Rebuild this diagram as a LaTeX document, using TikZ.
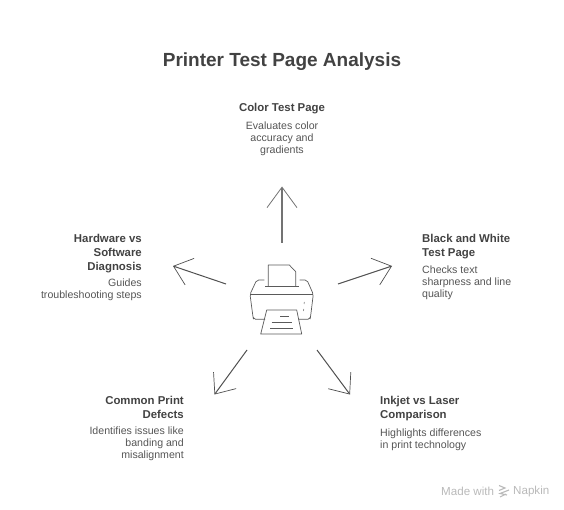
\documentclass[tikz,border=0pt]{standalone}
\usepackage{fontspec}
\setmainfont{Liberation Sans}
\definecolor{TitleGray}{RGB}{66, 66, 66}
\definecolor{BodyGray}{RGB}{85, 85, 85}
\definecolor{ArrowGray}{RGB}{80, 80, 80}
\definecolor{IconGray}{RGB}{90, 90, 90}
\definecolor{FootGray}{RGB}{185, 185, 185}
\usetikzlibrary{arrows.meta,positioning}

\begin{document}
\begin{tikzpicture}[
    x=1pt, y=-1pt,
    title/.style={font=\fontsize{19}{24}\selectfont\bfseries, text=TitleGray, inner sep=0pt},
    head/.style={font=\fontsize{11.4}{14}\selectfont\bfseries, text=TitleGray, inner sep=0pt},
    body/.style={font=\fontsize{10.6}{12}\selectfont, text=BodyGray, inner sep=0pt},
    foot/.style={font=\fontsize{11.6}{13}\selectfont, text=FootGray, inner sep=0pt},
    arr/.style={-{Straight Barb[length=17pt, width=28pt, line width=0.7pt]}, line width=1pt, draw=ArrowGray},
    icon/.style={draw=IconGray, line width=0.7pt, line join=round}
]
    \useasboundingbox (0,0) rectangle (564,510);

    \node[title] (title) at (282,62) {Printer Test Page Analysis};

    % labels
    \node[head, align=center, anchor=north] (colorhead) at (282,103.5) {Color Test Page};
    \node[body, align=center, anchor=north, below=7pt of colorhead] (colorbody) {Evaluates color\\accuracy and\\gradients};

    \node[head, align=left, anchor=north west] (bwhead) at (422,234) {Black and White\\Test Page};
    \node[body, align=left, below=6.5pt of bwhead.south west, anchor=north west] (bwbody) {Checks text\\sharpness and line\\quality};

    \node[head, align=right, anchor=north east] (hwhead) at (142,234) {Hardware vs\\Software\\Diagnosis};
    \node[body, align=right, below=5.5pt of hwhead.south east, anchor=north east] (hwbody) {Guides\\troubleshooting steps};

    \node[head, align=right, anchor=north east] (defecthead) at (184,396.5) {Common Print\\Defects};
    \node[body, align=right, below=7pt of defecthead.south east, anchor=north east] (defectbody) {Identifies issues like\\banding and\\misalignment};

    \node[head, align=left, anchor=north west] (inkhead) at (380,396.5) {Inkjet vs Laser\\Comparison};
    \node[body, align=left, below=7pt of inkhead.south west, anchor=north west] (inkbody) {Highlights differences\\in print technology};

    % arrows
    \coordinate (upfrom) at (282,243);
    \coordinate (upto) at (282,186.5);
    \coordinate (rightfrom) at (338,284);
    \coordinate (rightto) at (392,266);
    \coordinate (leftfrom) at (226,284);
    \coordinate (leftto) at (173,266);
    \coordinate (dlfrom) at (247,350);
    \coordinate (dlto) at (214.5,394.5);
    \coordinate (drfrom) at (317,350);
    \coordinate (drto) at (350,394.5);

    \draw[arr, line width=1.5pt, draw=ArrowGray!80, -{Straight Barb[length=20.5pt, width=30pt, line width=0.8pt]}] (upfrom) -- (upto);
    \draw[arr] (rightfrom) -- (rightto);
    \draw[arr] (leftfrom) -- (leftto);
    \draw[arr] (dlfrom) -- (dlto);
    \draw[arr] (drfrom) -- (drto);

    % printer
    \draw[icon] (268.3,286) -- (268.3,265) -- (289.3,265) -- (295.7,271.7) -- (295.7,286);
    \draw[icon] (265,286) -- (299,286);
    \draw[icon, rounded corners=2pt] (264.3,280) -- (256.7,280) -- (250,294.3) -- (253,317) -- (253.5,319.3) -- (265,319.3);
    \draw[icon, rounded corners=2pt] (299.7,280) -- (307,280) -- (313.3,294.3) -- (310.5,317) -- (310,319.3) -- (298.3,319.3);
    \draw[icon] (250,294.3) -- (313.3,294.3);
    \draw[icon] (266.7,310) -- (296.7,310) -- (301.7,334) -- (260.7,334) -- cycle;
    \draw[icon] (280,316.7) -- (289,316.7);
    \draw[icon] (271.7,322.3) -- (291.5,322.3);
    \draw[icon] (270,328.3) -- (293,328.3);
    \draw[icon, line width=0.5pt] (304.3,302) -- (304,304);
    \draw[icon, line width=0.5pt] (303.8,309) -- (303.5,311);

    % footer
    \node[foot, anchor=west] (madewith) at (441,491.5) {Made with};
    \node[foot, anchor=west] (napkin) at (513,491.5) {Napkin};
    \draw[FootGray, line width=1.1pt] (499,485.5) -- (505,488) -- (499,490.5);
    \draw[FootGray, line width=1.1pt] (509,490) -- (500,493.5) -- (507,495);
    \draw[FootGray, line width=1.1pt] (506,494) -- (500,497);
\end{tikzpicture}
\end{document}
